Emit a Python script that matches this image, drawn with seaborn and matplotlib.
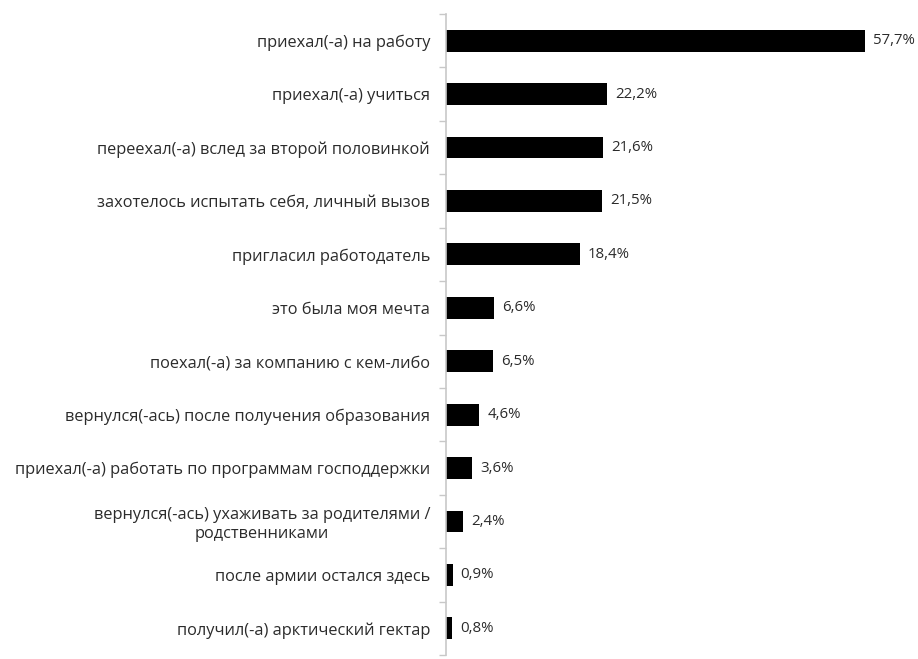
import matplotlib
matplotlib.use("Agg")
import matplotlib.pyplot as plt
import seaborn as sns
import pandas as pd
import numpy as np

categories = [
    "приехал(-а) на работу",
    "приехал(-а) учиться",
    "переехал(-а) вслед за второй половинкой",
    "захотелось испытать себя, личный вызов",
    "пригласил работодатель",
    "это была моя мечта",
    "поехал(-а) за компанию с кем-либо",
    "вернулся(-ась) после получения образования",
    "приехал(-а) работать по программам господдержки",
    "вернулся(-ась) ухаживать за родителями /\nродственниками",
    "после армии остался здесь",
    "получил(-а) арктический гектар",
]
values = [57.7, 22.2, 21.6, 21.5, 18.4, 6.6, 6.5, 4.6, 3.6, 2.4, 0.9, 0.8]

df = pd.DataFrame({"reason": categories, "share": values})

sns.set_theme(style="white")
plt.rcParams["font.family"] = ["Open Sans", "DejaVu Sans"]

fig = plt.figure(figsize=(9.18, 6.59), dpi=100)
ax = fig.add_axes([446 / 918, 4 / 659, 1 - 446 / 918, 641 / 659])

sns.barplot(data=df, x="share", y="reason", color="black", width=0.41,
            saturation=1, linewidth=0, ax=ax, orient="h")

n = len(categories)
ax.set_xlim(0, 65.0)
ax.set_ylim(n - 0.5, -0.5)
ax.set_xlabel("")
ax.set_ylabel("")
ax.set_xticks([])

for s in ["top", "right", "bottom"]:
    ax.spines[s].set_visible(False)
ax.spines["left"].set_color("#c8c8c8")
ax.spines["left"].set_linewidth(1.2)

ax.tick_params(axis="y", which="major", length=0, pad=11.5,
               labelsize=11.8, labelcolor="#2b2b2b")
for lbl in ax.get_yticklabels():
    lbl.set_multialignment("center")
    lbl.set_linespacing(1.2)

ax.set_yticks(np.arange(-0.5, n, 1.0), minor=True)
ax.tick_params(axis="y", which="minor", length=5, width=1.0,
               color="#c8c8c8", left=True)

for i, v in enumerate(values):
    ax.text(v + 1.1, i, f"{v:.1f}".replace(".", ",") + "%",
            va="center", ha="left", fontsize=10.8, color="#2b2b2b")

fig.savefig("out.png", dpi=100)
